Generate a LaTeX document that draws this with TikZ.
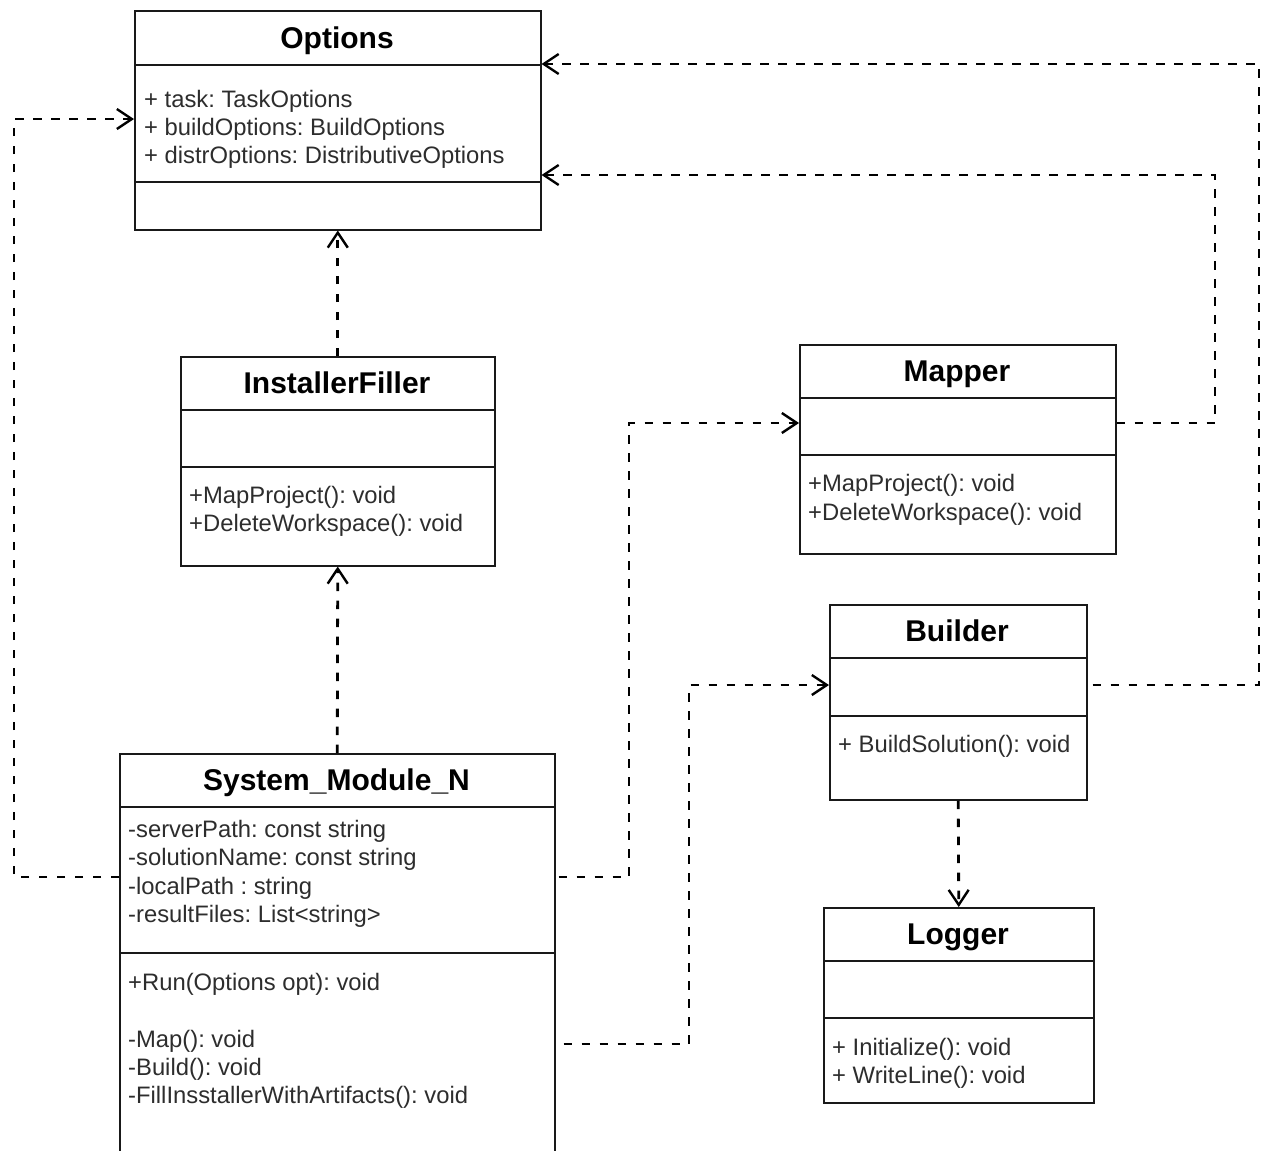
\documentclass[tikz,border=0pt]{standalone}
\usepackage{fontspec}
\setmainfont{Liberation Sans}
\usetikzlibrary{arrows.meta}
\frenchspacing

\definecolor{ink}{RGB}{25,25,25}
\definecolor{memberink}{RGB}{45,45,45}

\tikzset{
  classbox/.style={draw=ink, line width=1.5pt, fill=white, inner sep=0pt, anchor=north west},
  divider/.style={draw=ink, line width=1.5pt},
  classtitle/.style={font=\bfseries\fontsize{30}{36}\selectfont, text=black, anchor=base, inner sep=0pt},
  member/.style={font=\fontsize{23.8}{28}\selectfont, text=memberink, anchor=base west, inner sep=0pt},
  dep/.style={draw=black, line width=2.8pt, dash pattern=on 8.5pt off 9.5pt,
    -{Straight Barb[length=15pt, width=20pt, line width=2.4pt]}},
}

\begin{document}
\begin{tikzpicture}[x=1pt, y=-1pt]
\useasboundingbox (0,0) rectangle (1269,1151);

% ---- Options ----
\node[classbox, minimum width=406pt, minimum height=219pt] (options) at (134,10) {};
\draw[divider] (134,65) -- (540,65);
\draw[divider] (134,182) -- (540,182);
\node[classtitle] (options-t) at (337,48) {Options};
\foreach \txt [count=\i] in {+ task: TaskOptions, + buildOptions: BuildOptions, + distrOptions: DistributiveOptions}
  \node[member] (options-a\i) at (144,79+28*\i) {\txt};

% ---- InstallerFiller ----
\node[classbox, minimum width=314pt, minimum height=209pt] (installer) at (180,356) {};
\draw[divider] (180,410) -- (494,410);
\draw[divider] (180,467) -- (494,467);
\node[classtitle] (installer-t) at (337,393) {InstallerFiller};
\foreach \txt [count=\i] in {+MapProject(): void, +DeleteWorkspace(): void}
  \node[member] (installer-o\i) at (189,475+28*\i) {\txt};

% ---- Mapper ----
\node[classbox, minimum width=316pt, minimum height=209pt] (mapper) at (799,344) {};
\draw[divider] (799,398) -- (1115,398);
\draw[divider] (799,455) -- (1115,455);
\node[classtitle] (mapper-t) at (957,381) {Mapper};
\foreach \txt [count=\i] in {+MapProject(): void, +DeleteWorkspace(): void}
  \node[member] (mapper-o\i) at (808,462+29*\i) {\txt};

% ---- Builder ----
\node[classbox, minimum width=257pt, minimum height=195pt] (builder) at (829,604) {};
\draw[divider] (829,658) -- (1086,658);
\draw[divider] (829,716) -- (1086,716);
\node[classtitle] (builder-t) at (957,641) {Builder};
\node[member] (builder-o1) at (838,752) {+ BuildSolution(): void};

% ---- Logger ----
\node[classbox, minimum width=270pt, minimum height=195pt] (logger) at (823,907) {};
\draw[divider] (823,961) -- (1093,961);
\draw[divider] (823,1018) -- (1093,1018);
\node[classtitle] (logger-t) at (958,944) {Logger};
\foreach \txt [count=\i] in {+ Initialize(): void, + WriteLine(): void}
  \node[member] (logger-o\i) at (832,1027+28*\i) {\txt};

% ---- System_Module_N (runs past the lower edge) ----
\node[classbox, minimum width=435pt, minimum height=430pt] (sys) at (119,753) {};
\draw[divider] (119,807) -- (554,807);
\draw[divider] (119,953) -- (554,953);
\node[classtitle] (sys-t) at (336.5,790) {System\_Module\_N};
\foreach \txt [count=\i] in {-serverPath: const string, -solutionName: const string, -localPath : string, -resultFiles: List<string>}
  \node[member] (sys-a\i) at (128,808.5+28.5*\i) {\txt};
\node[member] (sys-o1) at (128,990) {+Run(Options opt): void};
\foreach \txt [count=\i] in {-Map(): void, -Build(): void, -FillInsstallerWithArtifacts(): void}
  \node[member] (sys-m\i) at (128,1019+28*\i) {\txt};

% ---- dependencies ----
\draw[dep] ([yshift=-124pt]sys.north west) -| (14,119) -- ([yshift=-109pt]options.north west);
\draw[dep] (sys.north) -- (installer.south);
\draw[dep] (installer.north) -- (options.south);
\draw[dep, shorten <=3pt] ([yshift=-124pt]sys.north east) -| (629,423) -- ([yshift=-79pt]mapper.north west);
\draw[dep, shorten <=8pt] ([yshift=-291pt]sys.north east) -| (689,685) -- ([yshift=-81pt]builder.north west);
\draw[dep] ([yshift=-79pt]mapper.north east) -| (1215,175) -- ([yshift=-165pt]options.north east);
\draw[dep, shorten <=5pt] ([yshift=-81pt]builder.north east) -| (1259,64) -- ([yshift=-54pt]options.north east);
\draw[dep] (builder.south) -- (logger.north);
\end{tikzpicture}
\end{document}
